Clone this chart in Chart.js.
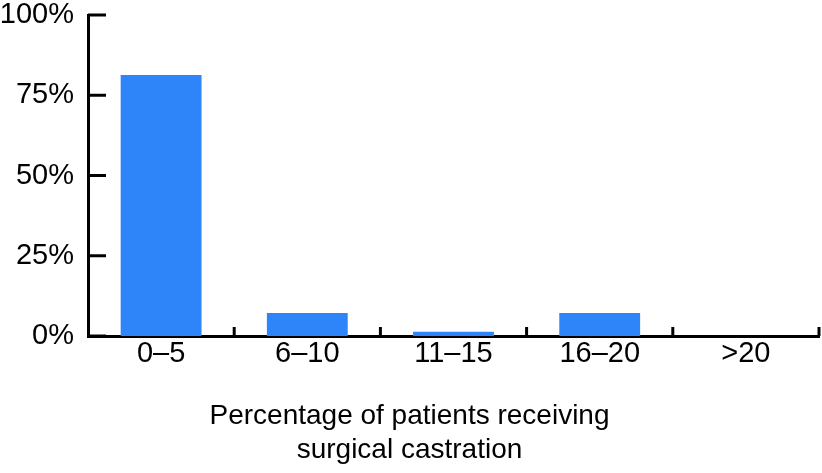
<!DOCTYPE html>
<html><head><meta charset="utf-8">
<script src="https://cdn.jsdelivr.net/npm/chart.js@4"></script>
<style>html,body{margin:0;padding:0;background:#fff}#wrap{width:822px;height:473px}</style>
</head><body><div id="wrap"><canvas id="c" width="822" height="473"></canvas></div>
<script>
const categories = ['0–5', '6–10', '11–15', '16–20', '>20'];
const shareValues = [81.3, 7.2, 1.3, 7.2, 0];
const yTickValues = [0, 25, 50, 75, 100];
const xAxisTitle = ['Percentage of patients receiving', 'surgical castration'];

const FONT = '"Liberation Sans", Arial, Helvetica, sans-serif';

const innerTicks = {
  id: 'innerTicks',
  afterDraw(chart) {
    const ctx = chart.ctx, xs = chart.scales.x, ys = chart.scales.y, a = chart.chartArea;
    ctx.save();
    ctx.strokeStyle = '#000';
    ctx.lineWidth = 3;
    ctx.lineCap = 'butt';
    yTickValues.forEach(v => {
      const py = ys.getPixelForValue(v);
      ctx.beginPath(); ctx.moveTo(a.left, py); ctx.lineTo(a.left + 18, py); ctx.stroke();
    });
    for (let i = 1; i <= categories.length; i++) {
      const px = xs.getPixelForValue(i - 0.5);
      ctx.beginPath(); ctx.moveTo(px, a.bottom); ctx.lineTo(px, a.bottom - 9); ctx.stroke();
    }
    ctx.restore();
  }
};

new Chart(document.getElementById('c'), {
  type: 'bar',
  data: {
    labels: categories,
    datasets: [{
      data: shareValues,
      backgroundColor: '#2e85fa',
      borderWidth: 0,
      barPercentage: 0.553,
      categoryPercentage: 1.0
    }]
  },
  options: {
    responsive: false,
    devicePixelRatio: 1,
    animation: false,
    layout: { padding: { top: 0, right: 3, left: 0, bottom: 0 } },
    plugins: {
      legend: { display: false },
      tooltip: { enabled: false },
      title: {
        display: true,
        position: 'bottom',
        text: xAxisTitle,
        color: '#000',
        font: { family: FONT, size: 28, weight: 'normal', lineHeight: 1.214 },
        padding: { top: 0, bottom: 6 }
      }
    },
    scales: {
      x: {
        grid: { display: false, drawTicks: false, tickLength: 0 },
        border: { display: true, color: '#000', width: 3 },
        ticks: { color: '#000', padding: 1, font: { family: FONT, size: 29 } },
        afterFit(s) { s.height = 63; s.paddingLeft = 0; s.paddingRight = 0; }
      },
      y: {
        min: 0, max: 100,
        grid: { display: false, drawTicks: false, tickLength: 0 },
        border: { display: true, color: '#000', width: 3 },
        ticks: {
          stepSize: 25,
          color: '#000',
          padding: 14,
          font: { family: FONT, size: 29 },
          callback: v => v + '%'
        },
        afterFit(s) { s.width = 88; s.paddingTop = 15; s.paddingBottom = 0; }
      }
    }
  },
  plugins: [innerTicks]
});
</script>
</body></html>
